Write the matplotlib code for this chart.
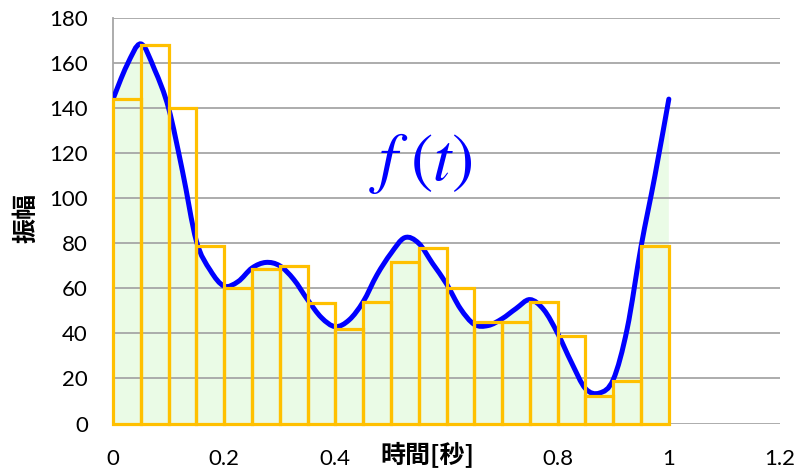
import numpy as np
import matplotlib.pyplot as plt
from matplotlib.path import Path
from matplotlib.patches import PathPatch

# sampled signal f(t), one period
t_samples = np.round(np.arange(41) * 0.025, 3)
amplitude = [144, 159, 168.5, 157, 140, 112, 81, 68, 61, 63,
             69, 71.5, 70, 64, 55, 47, 43, 46, 54, 66,
             75.5, 82.5, 80, 71, 62, 51, 44, 43.5, 46.5, 51,
             55, 50.5, 40, 27, 15.5, 13.5, 19.5, 42, 78.5, 110,
             144]

# rectangle approximation (left edges, width 0.05)
bar_left = np.round(np.arange(20) * 0.05, 2)
bar_height = [144, 168, 140, 79, 60, 68.5, 70, 53.5, 42, 54,
              71.5, 78, 60, 45, 45, 54, 39, 12, 19, 79]
bar_width = 0.05

x_ticks = [0, 0.2, 0.4, 0.6, 0.8, 1.0, 1.2]
x_tick_labels = ['0', '0.2', '0.4', '', '0.8', '1', '1.2']
y_ticks = list(range(0, 181, 20))


def smooth_path(x, y, close=False):
    # Catmull-Rom segments as cubic Bezier curves
    n = len(x)
    verts = [(x[0], y[0])]
    codes = [Path.MOVETO]
    for i in range(n - 1):
        a = i - 1 if i > 0 else i
        d = i + 2 if i + 2 < n else i + 1
        c1 = (x[i] + (x[i + 1] - x[a]) / 6, y[i] + (y[i + 1] - y[a]) / 6)
        c2 = (x[i + 1] - (x[d] - x[i]) / 6, y[i + 1] - (y[d] - y[i]) / 6)
        verts += [c1, c2, (x[i + 1], y[i + 1])]
        codes += [Path.CURVE4] * 3
    if close:
        verts += [(x[-1], 0), (x[0], 0), (x[0], 0)]
        codes += [Path.LINETO, Path.LINETO, Path.CLOSEPOLY]
    return Path(verts, codes)


plt.rcParams['mathtext.fontset'] = 'stix'

fig = plt.figure(figsize=(8.02, 4.73), dpi=100)
ax = fig.add_axes([113 / 802, 1 - 423.5 / 473, 667 / 802, 405.5 / 473])

ax.add_patch(PathPatch(smooth_path(t_samples, amplitude, close=True),
                       facecolor='#EAFBE6', edgecolor='none', zorder=1))
ax.add_patch(PathPatch(smooth_path(t_samples, amplitude),
                       facecolor='none', edgecolor='#0000FF', lw=3.6,
                       capstyle='round', zorder=3))
ax.bar(bar_left, bar_height, width=bar_width, align='edge', fill=False,
       edgecolor='#FFC000', linewidth=2.3, zorder=4, clip_on=False)

ax.set_xlim(0, 1.2)
ax.set_ylim(0, 180)
ax.set_xticks(x_ticks)
ax.set_xticklabels(x_tick_labels)
ax.set_yticks(y_ticks)
ax.set_axisbelow(False)
ax.yaxis.grid(True, color='#A6A6A6', lw=1.3, zorder=2)
for side in ['top', 'right', 'bottom']:
    ax.spines[side].set_visible(False)
ax.spines['left'].set_color('#A6A6A6')
ax.spines['left'].set_linewidth(1.3)
ax.tick_params(axis='both', length=0, labelsize=16, colors='black')
ax.tick_params(axis='y', pad=18)
ax.tick_params(axis='x', pad=18)
for lbl in ax.get_xticklabels() + ax.get_yticklabels():
    lbl.set_family('Lato')

cjk = ['Noto Sans CJK JP', 'DejaVu Sans']
ax.text(0.471, -0.078, '時間[秒]', transform=ax.transAxes, ha='center',
        va='center', fontsize=18, fontweight='bold', family=cjk)
ax.text(-0.129, 0.507, '振幅', transform=ax.transAxes, ha='center',
        va='center', rotation=90, fontsize=18, fontweight='bold', family=cjk)

ax.text(0.462, 0.642, r'$f\;(t)$', color='#0000FF', fontsize=48,
        ha='center', va='center', transform=ax.transAxes)

fig.savefig('out.png', dpi=100)
